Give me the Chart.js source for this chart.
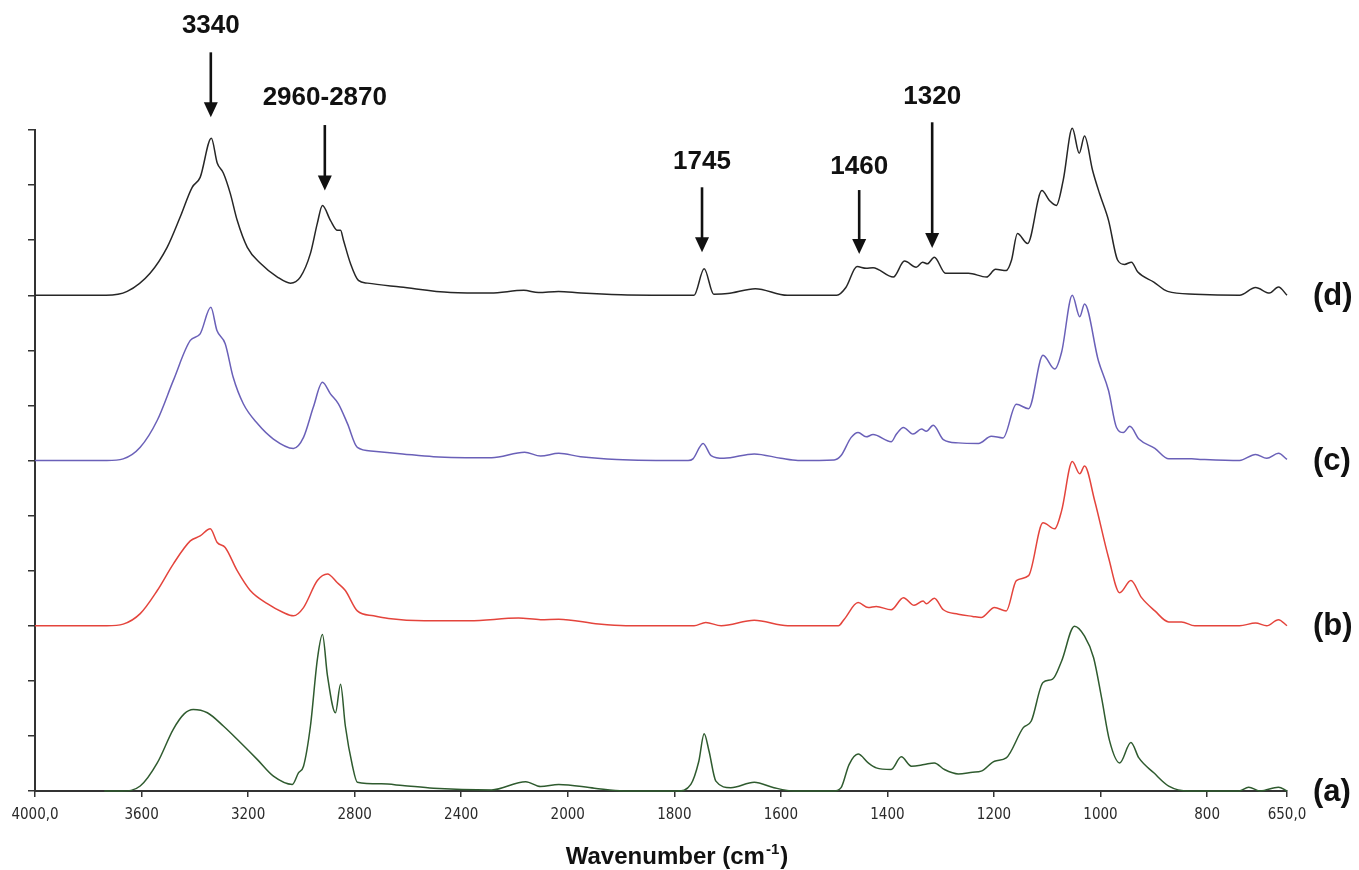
<!DOCTYPE html>
<html>
<head>
<meta charset="utf-8">
<script src="https://cdn.jsdelivr.net/npm/chart.js@4.4.1/dist/chart.umd.min.js"></script>
<style>
html,body{margin:0;padding:0;background:#fff;}
canvas{display:block;}
</style>
</head>
<body>
<canvas id="chart" width="1359" height="870"></canvas>
<script>
// ---------------- DATA (wavenumber cm-1, relative absorbance) ----------------
const specA = [[3740,0],[3673,0],[3605,0.09],[3541,0.51],[3481,1.12],[3440,1.40],[3406,1.48],[3353,1.42],[3293,1.18],[3229,0.88],[3165,0.57],[3105,0.27],[3034,0.12],[3011,0.33],[2992,0.45],[2966,1.18],[2940,2.39],[2921,2.84],[2902,2.09],[2872,1.42],[2853,1.94],[2835,1.18],[2808,0.45],[2790,0.16],[2700,0.13],[2620,0.10],[2504,0.05],[2286,0.02],[2158,0.17],[2102,0.08],[2034,0.12],[1950,0.05],[1895,0],[1794,0],[1769,0.12],[1754,0.54],[1744,1.04],[1735,0.73],[1722,0.18],[1694,0.06],[1650,0.16],[1613,0.06],[1575,0],[1500,0],[1487,0.06],[1472,0.48],[1455,0.67],[1436,0.51],[1421,0.42],[1393,0.39],[1374,0.62],[1355,0.45],[1331,0.48],[1312,0.51],[1293,0.39],[1267,0.31],[1240,0.34],[1224,0.36],[1199,0.54],[1177,0.60],[1145,1.15],[1130,1.27],[1108,1.97],[1090,2.03],[1073,2.36],[1049,2.99],[1030,2.81],[1013,2.42],[998,1.69],[983,0.91],[964,0.51],[943,0.88],[928,0.60],[900,0.33],[872,0.09],[834,0],[740,0],[722,0.07],[700,0],[666,0.07],[650,0]];

const specB = [[4000,0],[3730,0],[3669,0.03],[3605,0.22],[3541,0.64],[3481,1.12],[3417,1.54],[3380,1.63],[3342,1.76],[3316,1.51],[3286,1.42],[3241,1.0],[3192,0.64],[3128,0.40],[3068,0.24],[3030,0.18],[2992,0.33],[2940,0.82],[2902,0.94],[2865,0.78],[2835,0.64],[2790,0.27],[2729,0.18],[2673,0.13],[2538,0.09],[2369,0.09],[2185,0.14],[2102,0.11],[2034,0.12],[1942,0.03],[1891,0],[1763,0],[1741,0.06],[1712,0],[1650,0.10],[1587,0],[1492,0],[1481,0.12],[1455,0.42],[1436,0.33],[1421,0.35],[1393,0.29],[1370,0.51],[1350,0.37],[1333,0.45],[1327,0.40],[1312,0.50],[1295,0.29],[1267,0.21],[1240,0.17],[1224,0.15],[1199,0.33],[1177,0.27],[1158,0.82],[1135,0.91],[1108,1.87],[1086,1.76],[1073,2.09],[1053,2.98],[1039,2.76],[1030,2.90],[1011,2.27],[985,1.24],[964,0.60],[943,0.82],[923,0.51],[898,0.27],[872,0.07],[848,0.07],[823,0],[739,0],[709,0.05],[688,0],[666,0.11],[650,0]];

const specC = [[4000,0],[3730,0],[3669,0.03],[3605,0.24],[3541,0.73],[3481,1.45],[3417,2.18],[3380,2.30],[3340,2.78],[3317,2.36],[3286,2.12],[3256,1.51],[3218,1.03],[3165,0.67],[3105,0.39],[3030,0.22],[2992,0.42],[2955,0.97],[2921,1.42],[2891,1.21],[2861,1.03],[2827,0.67],[2790,0.24],[2729,0.17],[2620,0.12],[2504,0.07],[2286,0.05],[2162,0.15],[2102,0.08],[2034,0.13],[1976,0.07],[1908,0.02],[1774,0],[1765,0.03],[1746,0.31],[1731,0.09],[1707,0.04],[1650,0.12],[1600,0.04],[1568,0],[1500,0.01],[1487,0.09],[1468,0.42],[1455,0.51],[1440,0.43],[1427,0.47],[1393,0.34],[1383,0.48],[1370,0.60],[1352,0.48],[1336,0.57],[1327,0.53],[1314,0.64],[1295,0.38],[1267,0.32],[1229,0.31],[1205,0.44],[1183,0.41],[1158,1.02],[1135,0.94],[1108,1.91],[1086,1.66],[1073,1.97],[1053,3.0],[1039,2.61],[1030,2.84],[1004,1.81],[985,1.27],[970,0.60],[957,0.51],[945,0.62],[928,0.39],[898,0.22],[872,0.03],[829,0.03],[810,0.02],[739,0],[709,0.11],[688,0.04],[666,0.13],[650,0.02]];

const specD = [[4000,0],[3733,0],[3654,0.07],[3568,0.4],[3504,0.87],[3455,1.42],[3410,1.96],[3380,2.14],[3338,2.85],[3316,2.40],[3293,2.22],[3267,1.85],[3241,1.36],[3203,0.87],[3154,0.58],[3090,0.33],[3041,0.22],[3004,0.33],[2966,0.76],[2940,1.31],[2921,1.63],[2891,1.36],[2865,1.18],[2853,1.18],[2842,1.0],[2816,0.58],[2786,0.27],[2752,0.22],[2628,0.15],[2440,0.05],[2290,0.04],[2165,0.09],[2110,0.05],[2035,0.07],[1975,0.04],[1900,0.01],[1763,0],[1744,0.48],[1726,0.02],[1700,0.03],[1648,0.12],[1588,0],[1495,0],[1478,0.14],[1457,0.52],[1440,0.49],[1427,0.50],[1389,0.33],[1368,0.62],[1346,0.51],[1334,0.60],[1325,0.57],[1312,0.69],[1291,0.40],[1248,0.40],[1214,0.33],[1197,0.47],[1177,0.45],[1167,0.64],[1156,1.12],[1137,0.94],[1110,1.90],[1096,1.72],[1083,1.63],[1070,2.09],[1053,3.03],[1040,2.58],[1030,2.89],[1015,2.27],[1002,1.85],[985,1.36],[968,0.64],[955,0.56],[942,0.60],[930,0.42],[900,0.24],[874,0.07],[823,0.02],[739,0],[709,0.14],[683,0.04],[666,0.15],[650,0]];

const seriesLabels = ['(a)', '(b)', '(c)', '(d)'];
const seriesOffsets = [0, 3, 6, 9];          // vertical stacking of the spectra (y units)
const xTickValues = [4000, 3600, 3200, 2800, 2400, 2000, 1800, 1600, 1400, 1200, 1000, 800, 650];
const peakLabels = ['3340', '2960-2870', '1745', '1460', '1320'];
const peakWavenumbers = [3340, 2912, 1748, 1453, 1316];

// ---------------- LAYOUT / STYLE ----------------
const seriesColors = ['#2f5b2f', '#e4443c', '#6a60b8', '#262626'];
// annotation vertical layout in y-axis units: [text centre, arrow tail, arrow tip]
const peakLayout = [[13.89, 13.41, 12.23], [12.59, 12.09, 10.90], [11.43, 10.96, 9.78], [11.34, 10.91, 9.75], [12.61, 12.14, 9.86]];

// Spectrometer-style split axis: 4000-2000 at half the density of 2000-650
class WavenumberScale extends Chart.LinearScale {
  static id = 'wavenumber';
  static defaults = Chart.LinearScale.defaults;
  _dec(v) {
    const total = (4000 - 2000) + 2 * (2000 - 650);
    return v >= 2000 ? (4000 - v) / total : ((4000 - 2000) + 2 * (2000 - v)) / total;
  }
  getPixelForValue(v) {
    if (v === null || v === undefined || isNaN(v)) return NaN;
    return this.getPixelForDecimal(this._dec(v));
  }
  getValueForPixel(p) {
    const d = this.getDecimalForPixel(p) * 4700;
    return d <= 2000 ? 4000 - d : 2000 - (d - 2000) / 2;
  }
  buildTicks() {
    return xTickValues.map(v => ({ value: v }));
  }
}
Chart.register(WavenumberScale);

const specs = [specA, specB, specC, specD];
const datasets = specs.map((s, i) => ({
  label: seriesLabels[i],
  data: s.map(p => ({ x: p[0], y: p[1] + seriesOffsets[i] })),
  borderColor: seriesColors[i],
  borderWidth: 1.5,
  pointRadius: 0,
  fill: false,
  clip: 10,
  cubicInterpolationMode: 'monotone'
}));

const overlay = {
  id: 'overlay',
  afterDraw(chart) {
    const ctx = chart.ctx;
    const xs = chart.scales.x, ys = chart.scales.y;
    ctx.save();
    ctx.fillStyle = '#111';
    ctx.strokeStyle = '#111';
    // peak annotations
    peakLabels.forEach((lab, i) => {
      const x = xs.getPixelForValue(peakWavenumbers[i]);
      const [tv, tail, tip] = peakLayout[i];
      ctx.font = 'bold 26px "Liberation Sans", Arial, sans-serif';
      ctx.textAlign = 'center';
      ctx.textBaseline = 'middle';
      ctx.fillText(lab, x, ys.getPixelForValue(tv));
      const y0 = ys.getPixelForValue(tail), y1 = ys.getPixelForValue(tip);
      const head = 15, hw = 7;
      ctx.lineWidth = 2.6;
      ctx.beginPath();
      ctx.moveTo(x, y0);
      ctx.lineTo(x, y1 - head + 1);
      ctx.stroke();
      ctx.beginPath();
      ctx.moveTo(x - hw, y1 - head);
      ctx.lineTo(x + hw, y1 - head);
      ctx.lineTo(x, y1);
      ctx.closePath();
      ctx.fill();
    });
    // series labels on the right
    ctx.font = 'bold 31px "Liberation Sans", Arial, sans-serif';
    ctx.textAlign = 'left';
    ctx.textBaseline = 'middle';
    seriesLabels.forEach((lab, i) => {
      ctx.fillText(lab, chart.chartArea.right + 26, ys.getPixelForValue(seriesOffsets[i]) + 1);
    });
    // x-axis title with superscript
    const big = 'bold 24px "Liberation Sans", Arial, sans-serif';
    const small = 'bold 15px "Liberation Sans", Arial, sans-serif';
    const p1 = 'Wavenumber (cm', p2 = '-1', p3 = ')';
    ctx.font = big; const w1 = ctx.measureText(p1).width, w3 = ctx.measureText(p3).width;
    ctx.font = small; const w2 = ctx.measureText(p2).width;
    const total = w1 + w2 + w3;
    const cx = (chart.chartArea.left + chart.chartArea.right) / 2 + 15;
    const by = 864;
    let xx = cx - total / 2;
    ctx.textAlign = 'left';
    ctx.textBaseline = 'alphabetic';
    ctx.font = big; ctx.fillText(p1, xx, by); xx += w1;
    ctx.font = small; ctx.fillText(p2, xx + 1, by - 10); xx += w2 + 2;
    ctx.font = big; ctx.fillText(p3, xx, by);
    ctx.restore();
  }
};

new Chart(document.getElementById('chart'), {
  type: 'line',
  data: { datasets },
  options: {
    responsive: false,
    animation: false,
    events: [],
    layout: { padding: { top: 130, right: 72, bottom: 0, left: 0 } },
    plugins: { legend: { display: false }, tooltip: { enabled: false }, title: { display: false } },
    scales: {
      x: {
        type: 'wavenumber',
        position: 'bottom',
        min: 650,
        max: 4000,
        grid: { drawOnChartArea: false, drawTicks: true, tickLength: 6, color: '#333', lineWidth: 1.5 },
        border: { display: true, color: '#333', width: 2 },
        ticks: {
          autoSkip: false,
          maxRotation: 0,
          padding: 9,
          color: '#2a2a2a',
          font: { family: '"DejaVu Sans Condensed", "DejaVu Sans", sans-serif', size: 15 },
          callback: v => v === 4000 ? '4000,0' : (v === 650 ? '650,0' : String(v))
        },
        afterFit: s => { s.height = 79; }
      },
      y: {
        type: 'linear',
        min: 0,
        max: 12,
        grid: { drawOnChartArea: false, drawTicks: true, tickLength: 7, color: '#333', lineWidth: 1.5 },
        border: { display: true, color: '#333', width: 2 },
        ticks: { stepSize: 1, display: false },
        afterFit: s => { s.width = 35; }
      }
    }
  },
  plugins: [overlay]
});
</script>
</body>
</html>
